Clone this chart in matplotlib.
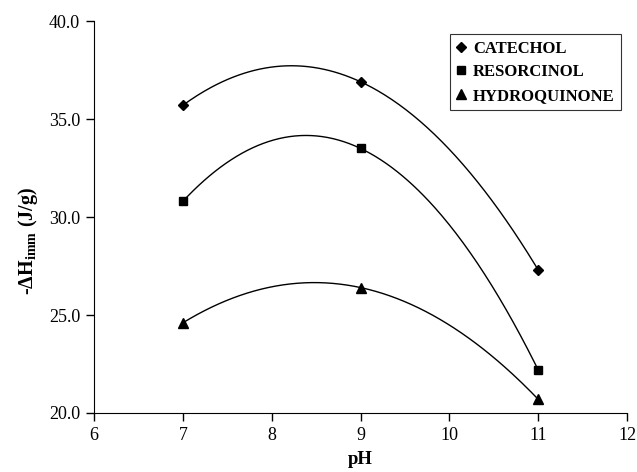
import matplotlib
matplotlib.use("Agg")
import matplotlib.pyplot as plt
import numpy as np
from matplotlib.ticker import FormatStrFormatter

ph = [7, 9, 11]
catechol = [35.7, 36.9, 27.3]
resorcinol = [30.8, 33.5, 22.2]
hydroquinone = [24.6, 26.4, 20.7]

series = [
    ("CATECHOL", catechol, "D", 5.5),
    ("RESORCINOL", resorcinol, "s", 6),
    ("HYDROQUINONE", hydroquinone, "^", 7),
]

plt.rcParams["font.family"] = "Liberation Serif"
plt.rcParams["mathtext.fontset"] = "custom"
plt.rcParams["mathtext.rm"] = "Liberation Serif:bold"
plt.rcParams["mathtext.bf"] = "Liberation Serif:bold"

fig = plt.figure(figsize=(6.37, 4.72), dpi=100)
ax = fig.add_axes([0.1476, 0.125, 0.8367, 0.8305])

# smooth trend through the three points (quadratic fit)
xs = np.linspace(min(ph), max(ph), 200)
for name, vals, mk, ms in series:
    coef = np.polyfit(ph, vals, 2)
    ax.plot(xs, np.polyval(coef, xs), color="black", lw=1.0)
    ax.plot(ph, vals, linestyle="none", marker=mk, color="black", ms=ms, label=name)

ax.set_xlim(6, 12)
ax.set_ylim(20, 40)
ax.set_xticks(range(6, 13))
ax.set_yticks([20, 25, 30, 35, 40])
ax.yaxis.set_major_formatter(FormatStrFormatter("%.1f"))
ax.tick_params(direction="out", length=6, width=1, labelsize=13, colors="black", pad=4)
for side in ["top", "right"]:
    ax.spines[side].set_visible(False)

ax.set_xlabel("pH", fontsize=13.5, fontweight="bold", labelpad=5)
ax.set_ylabel(r"-ΔH$_{\mathrm{imm}}$ (J/g)", fontsize=14.5, fontweight="bold")
ax.yaxis.set_label_coords(-0.101, 0.44)

leg = ax.legend(loc="upper right", bbox_to_anchor=(0.989, 0.967), borderaxespad=0,
                frameon=True, fancybox=False,
                edgecolor="black", handlelength=0.6, handletextpad=0.4,
                borderpad=0.4, labelspacing=0.45, prop={"weight": "bold", "size": 12})
leg.get_frame().set_linewidth(0.8)

fig.savefig("out.png", dpi=100)
